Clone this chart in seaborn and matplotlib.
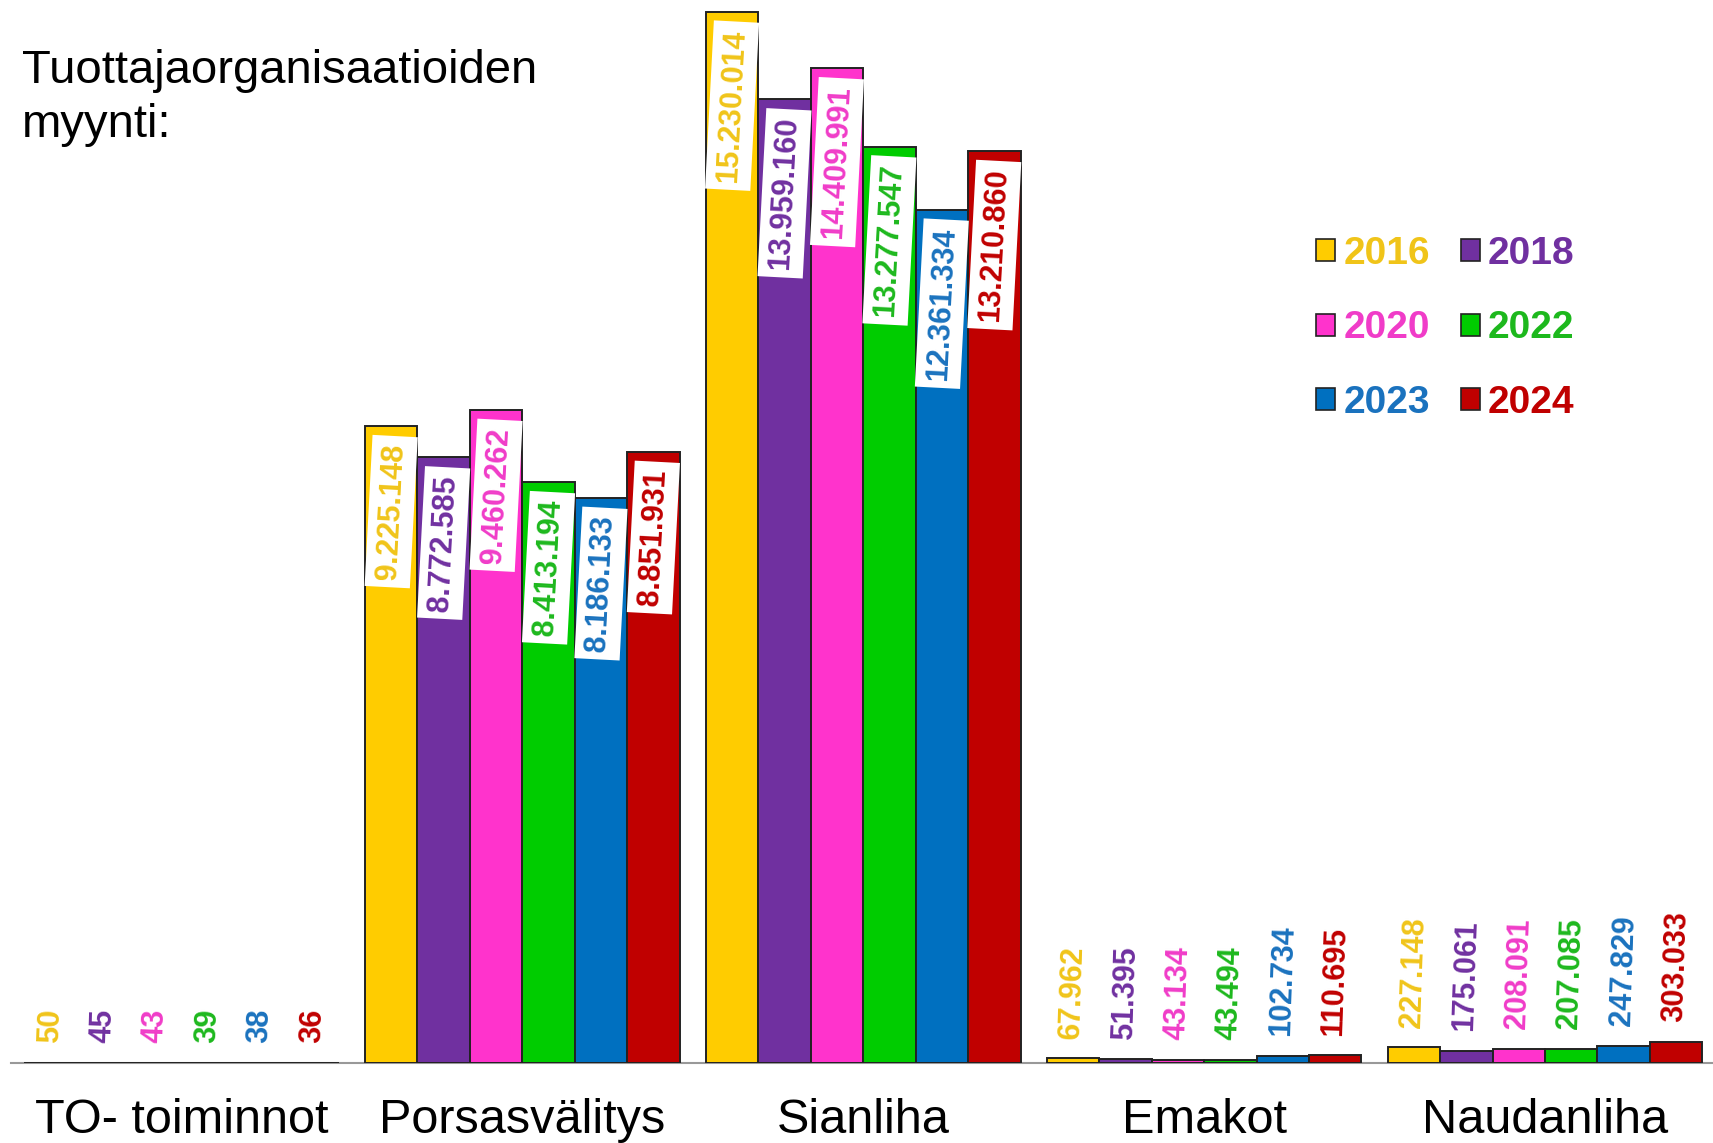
import numpy as np
import pandas as pd
import matplotlib.pyplot as plt
import seaborn as sns

sns.set_style("white")
plt.rcParams["font.family"] = ["Liberation Sans", "DejaVu Sans"]
plt.rcParams["text.color"] = "black"
plt.rcParams["xtick.labelcolor"] = "black"

# Tiedot
categories = ["TO- toiminnot", "Porsasvälitys", "Sianliha", "Emakot", "Naudanliha"]
years = ["2016", "2018", "2020", "2022", "2023", "2024"]
v2016 = [50, 9225148, 15230014, 67962, 227148]
v2018 = [45, 8772585, 13959160, 51395, 175061]
v2020 = [43, 9460262, 14409991, 43134, 208091]
v2022 = [39, 8413194, 13277547, 43494, 207085]
v2023 = [38, 8186133, 12361334, 102734, 247829]
v2024 = [36, 8851931, 13210860, 110695, 303033]
series = [v2016, v2018, v2020, v2022, v2023, v2024]

bar_colors = ["#FFCC00", "#7030A0", "#FF33CC", "#00CC00", "#0070C0", "#C00000"]
text_colors = ["#F0C419", "#7030A0", "#F03CC8", "#1DB81D", "#1A72BE", "#C00000"]

rows = [(c, y, v) for y, vals in zip(years, series) for c, v in zip(categories, vals)]
df = pd.DataFrame(rows, columns=["kategoria", "vuosi", "myynti"])

fig = plt.figure(figsize=(17.13, 11.43), dpi=100)
ax = fig.add_axes([0.0064, 0.07, 0.995, 0.93])

sns.barplot(data=df, x="kategoria", y="myynti", hue="vuosi", order=categories,
            hue_order=years, palette=bar_colors, width=0.923, saturation=1,
            edgecolor="#222222", linewidth=1.4, zorder=3, ax=ax, legend=True)

ax.set_ylim(0, 15.4e6)
ax.set_xlim(-0.5, 4.5)
for s in ["top", "right", "left"]:
    ax.spines[s].set_visible(False)
ax.spines["bottom"].set_color("#999999")
ax.spines["bottom"].set_linewidth(1.5)
ax.set_yticks([])
ax.set_xlabel("")
ax.set_ylabel("")
ax.set_xticks(np.arange(-0.5, len(categories), 1), minor=True)
ax.tick_params(axis="x", which="minor", length=10, color="#999999", width=1.5)
ax.tick_params(axis="x", which="major", length=0, pad=25, labelsize=35)

# Arvot pylvaisiin
for i, cont in enumerate(ax.containers):
    for bar, v in zip(cont, series[i]):
        x = bar.get_x() + bar.get_width() / 2
        h = bar.get_height()
        label = f"{v:,}".replace(",", ".")
        if v > 1e6:
            ax.annotate(label, (x, h), xytext=(0, -12), textcoords="offset points",
                        rotation=87, ha="center", va="top", fontsize=22,
                        fontweight="bold", color=text_colors[i], zorder=4,
                        bbox=dict(boxstyle="square,pad=0.25", fc="white", ec="none"))
        else:
            ax.annotate(label, (x, h), xytext=(0, 14), textcoords="offset points",
                        rotation=88, ha="center", va="bottom", fontsize=22,
                        fontweight="bold", color=text_colors[i], zorder=4)

# Selite
handles, labels = ax.get_legend_handles_labels()
order = [0, 2, 4, 1, 3, 5]
leg = ax.legend([handles[k] for k in order], [labels[k] for k in order], ncol=2,
                frameon=False, loc="upper left",
                bbox_to_anchor=(1316 / 1713, 1 - 236 / 1143),
                bbox_transform=fig.transFigure,
                prop=dict(weight="bold", size=28),
                handlelength=0.5, handleheight=0.5, handletextpad=0.2,
                columnspacing=0.8, labelspacing=0.99, borderpad=0, borderaxespad=0)
for t, k in zip(leg.get_texts(), order):
    t.set_color(text_colors[k])
for h in leg.legend_handles:
    h.set_edgecolor("#222222")
    h.set_linewidth(1.2)

fig.text(22 / 1713, 0.957, "Tuottajaorganisaatioiden\nmyynti:", fontsize=34,
         va="top", ha="left", linespacing=1.3)

fig.savefig("out.png", dpi=100)
plt.close()
